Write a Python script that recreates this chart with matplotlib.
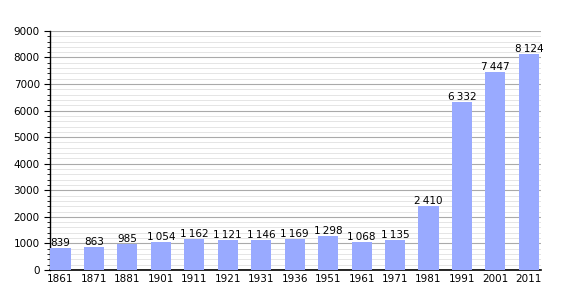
import matplotlib.pyplot as plt
from matplotlib.ticker import MultipleLocator

# Data
years = ['1861', '1871', '1881', '1901', '1911', '1921', '1931', '1936',
         '1951', '1961', '1971', '1981', '1991', '2001', '2011']
population = [839, 863, 985, 1054, 1162, 1121, 1146, 1169,
              1298, 1068, 1135, 2410, 6332, 7447, 8124]

bar_color = '#99aaff'

fig = plt.figure(figsize=(5.7, 3.0), dpi=100)
ax = fig.add_axes([0.088, 0.1, 0.861, 0.797])

x = range(len(years))
ax.bar(x, population, width=0.6, color=bar_color, zorder=3)

# value labels with thin-space thousands separator
for i, v in zip(x, population):
    label = f"{v:,}".replace(',', '\u2009')
    ax.text(i, v - 10, label, ha='center', va='bottom', fontsize=7.5, zorder=4)

ax.set_xticks(list(x))
ax.set_xticklabels(years, fontsize=7.5)
ax.set_xlim(-0.31, 14.36)
ax.set_ylim(0, 9000)
ax.yaxis.set_major_locator(MultipleLocator(1000))
ax.yaxis.set_minor_locator(MultipleLocator(200))
ax.tick_params(axis='y', labelsize=7.5, length=4, width=0.8)
ax.tick_params(axis='y', which='minor', length=2.5, width=0.6)
ax.tick_params(axis='x', length=0, pad=3)

ax.grid(axis='y', which='major', color='#aaaaaa', linewidth=0.8, zorder=0)
ax.grid(axis='y', which='minor', color='#e0e0e0', linewidth=0.6, zorder=0)

for side in ['top', 'right']:
    ax.spines[side].set_visible(False)
ax.spines['left'].set_linewidth(1.0)
ax.spines['bottom'].set_linewidth(1.2)

fig.savefig('out.png', dpi=100)
